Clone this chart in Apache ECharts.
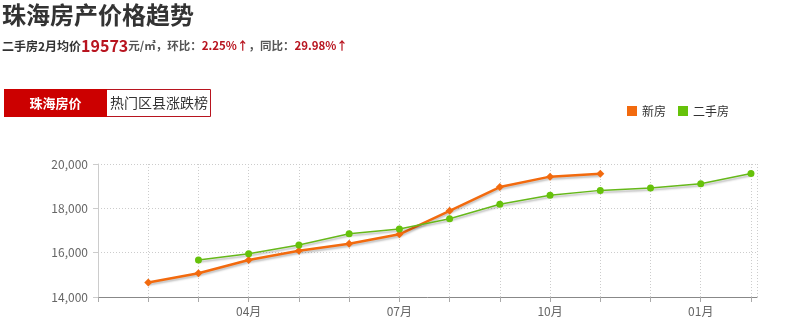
<!DOCTYPE html>
<html><head><meta charset="utf-8">
<script src="https://cdn.jsdelivr.net/npm/echarts@6/dist/echarts.min.js"></script>
<style>html,body{margin:0;padding:0;background:#fff}#c{width:790px;height:332px}</style>
</head><body><div id="c"></div>
<script>
var months = ["01月","02月","03月","04月","05月","06月","07月","08月","09月","10月","11月","12月","01月","02月"];
var shownLabels = [3, 6, 9, 12];
var newHouse = [null, 14650, 15070, 15670, 16090, 16400, 16830, 17890, 18960, 19430, 19560, null, null, null];
var secondHand = [null, null, 15670, 15950, 16350, 16850, 17070, 17530, 18180, 18590, 18810, 18920, 19110, 19573];
var yTicks = [14000, 16000, 18000, 20000];

function pairs(arr){ var out=[]; arr.forEach(function(v,i){ if(v!==null) out.push([i,v]); }); return out; }

var chart = echarts.init(document.getElementById('c'), null, {renderer:'canvas'});
var F = '"Microsoft YaHei","Noto Sans CJK SC",sans-serif';
chart.setOption({
  animation:false,
  textStyle:{fontFamily:F},
  title:[{
    text:'珠海房产价格趋势', left:-3, top:-2,
    textStyle:{fontSize:24, fontWeight:'bold', color:'#333', fontFamily:F}
  },{
    text:'{a|二手房2月均价}{b|19573}{c|元/㎡，环比：}{d|2.25%↑}{c|，同比：}{d|29.98%↑}',
    left:-3, top:33,
    textStyle:{rich:{
      a:{fontSize:12, fontWeight:'bold', color:'#333', fontFamily:F},
      b:{fontSize:16, fontWeight:'bold', color:'#b8141f', fontFamily:F},
      c:{fontSize:11.5, color:'#555', fontFamily:F},
      d:{fontSize:11.5, fontWeight:'bold', color:'#b8141f', fontFamily:F}
    }}
  }],
  graphic:[
    {type:'rect', shape:{x:4.5,y:89.5,width:206,height:27}, style:{fill:'#fff', stroke:'#b8141f', lineWidth:1}},
    {type:'rect', shape:{x:4,y:89,width:103,height:28}, style:{fill:'#cc0000'}},
    {type:'text', x:55.5, y:103, style:{text:'珠海房价', fill:'#fff', font:'bold 13px '+F, align:'center', verticalAlign:'middle'}},
    {type:'text', x:159, y:103, style:{text:'热门区县涨跌榜', fill:'#333', font:'14px '+F, align:'center', verticalAlign:'middle'}}
  ],
  legend:{
    right:56, top:100, itemWidth:10, itemHeight:10, itemGap:12,
    icon:'rect',
    textStyle:{fontSize:12, color:'#333', fontFamily:F},
    data:['新房','二手房']
  },
  grid:{left:98, right:33, top:164, bottom:35, containLabel:false},
  xAxis:{
    type:'value', min:0, max:13.12, interval:1,
    axisLine:{show:true, lineStyle:{color:'#888'}},
    axisTick:{show:true, length:5, lineStyle:{color:'#aaa'}},
    axisLabel:{color:'#666', fontSize:12, margin:8, showMaxLabel:false,
      formatter:function(v){ return shownLabels.indexOf(v)>=0 ? months[v] : ''; }},
    splitLine:{show:true, lineStyle:{color:'#ccc', type:[1,2]}}
  },
  yAxis:{
    type:'value', min:yTicks[0], max:yTicks[yTicks.length-1], interval:2000,
    axisLine:{show:true, lineStyle:{color:'#ccc'}},
    axisTick:{show:true, length:5, lineStyle:{color:'#ccc'}},
    axisLabel:{color:'#666', fontSize:12, margin:10,
      formatter:function(v){ return v.toLocaleString('en-US'); }},
    splitLine:{show:true, lineStyle:{color:'#ccc', type:[1,2]}}
  },
  series:[{
    name:'新房', type:'line', data:pairs(newHouse),
    symbol:'diamond', symbolSize:8, color:'#ff6600',
    itemStyle:{color:'#f26a0e'},
    lineStyle:{width:2.5, color:'#f26a0e', shadowColor:'rgba(0,0,0,0.25)', shadowBlur:2, shadowOffsetY:2}
  },{
    name:'二手房', type:'line', data:pairs(secondHand),
    symbol:'circle', symbolSize:7, color:'#66cc00',
    itemStyle:{color:'#66c20a'},
    lineStyle:{width:1.5, color:'#66b81a', shadowColor:'rgba(0,0,0,0.3)', shadowBlur:2, shadowOffsetY:2}
  }]
});
</script></body></html>
